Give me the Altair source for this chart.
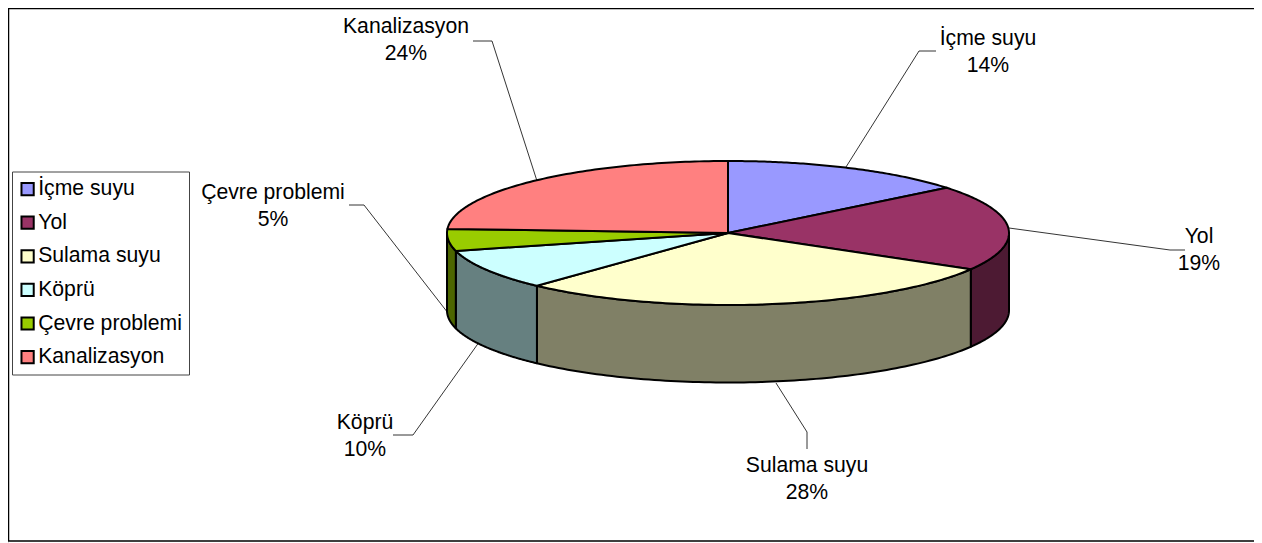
import numpy as np
import pandas as pd
import altair as alt

categories = ["İçme suyu", "Yol", "Sulama suyu", "Köprü", "Çevre problemi", "Kanalizasyon"]
shares = [14.2, 19.2, 28.5, 9.1, 4.9, 24.1]
percent_labels = ["14%", "19%", "28%", "10%", "5%", "24%"]
top_colors = ["#9999FF", "#993366", "#FFFFCC", "#CCFFFF", "#99CC00", "#FF8080"]
side_colors = ["#4D4D80", "#4D1A33", "#808066", "#668080", "#4D6600", "#804040"]

# layout (screen pixels of the reference)
CX, CY, RX, RY, DEPTH = 728.0, 233.0, 281.0, 72.0, 77.5
X0, Y0, X1, Y1 = 8.0, 8.0, 1254.0, 543.0
label_centres = [(988, 39), (1199, 237), (807, 466), (365, 423), (273, 193), (406, 27)]
LINE_GAP = 27
leaders = [
    [(846, 167), (919, 51), (936, 51)],
    [(1009, 228), (1170, 250), (1185, 250)],
    [(776, 383), (807, 432), (807, 449)],
    [(482, 338), (413, 435), (393, 435)],
    [(448, 313), (364, 205), (349, 205)],
    [(537, 181), (492, 41), (473, 41)],
]
frame = [(X1, 541), (X0 + 0.5, 541), (X0 + 0.5, Y0 + 0.5), (X1, Y0 + 0.5)]


def ell(deg, dy=0.0):
    a = np.radians(deg)
    return CX + RX * np.sin(a), CY - RY * np.cos(a) + dy


edges = np.concatenate([[0.0], np.cumsum(shares)]) * 3.6
top_rows, side_rows = [], []
for i, cat in enumerate(categories):
    a0, a1 = edges[i], edges[i + 1]
    arc = np.linspace(a0, a1, 90)
    pts = [(CX, CY)] + [ell(a) for a in arc]
    for k, (x, y) in enumerate(pts):
        top_rows.append(dict(cat=cat, k=k, x=x, y=y))
    lo, hi = max(a0, 90.0), min(a1, 270.0)
    if lo < hi:
        arc = np.linspace(lo, hi, 90)
        pts = [ell(a) for a in arc] + [ell(a, DEPTH) for a in arc[::-1]]
        for k, (x, y) in enumerate(pts):
            side_rows.append(dict(cat=cat, col=side_colors[i], k=k, x=x, y=y))

top_df = pd.DataFrame(top_rows)
side_df = pd.DataFrame(side_rows)
leader_df = pd.DataFrame(
    [dict(cat=categories[i], k=k, x=x, y=y) for i, l in enumerate(leaders) for k, (x, y) in enumerate(l)]
)
frame_df = pd.DataFrame([dict(k=k, x=x, y=y) for k, (x, y) in enumerate(frame)])
text_df = pd.DataFrame(
    [dict(t=categories[i], x=c[0], y=c[1]) for i, c in enumerate(label_centres)]
    + [dict(t=percent_labels[i], x=c[0], y=c[1] + LINE_GAP) for i, c in enumerate(label_centres)]
)

xs = alt.X("x:Q", scale=alt.Scale(domain=[X0, X1], nice=False, zero=False), axis=None)
ys = alt.Y("y:Q", scale=alt.Scale(domain=[Y1, Y0], nice=False, zero=False), axis=None)
FONT = "Liberation Sans"

frame_layer = alt.Chart(frame_df).mark_line(color="#000000", strokeWidth=1.5).encode(x=xs, y=ys, order="k:Q")
leader_layer = alt.Chart(leader_df).mark_line(color="#000000", strokeWidth=0.8).encode(
    x=xs, y=ys, order="k:Q", detail="cat:N"
)
side_layer = alt.Chart(side_df).mark_line(
    interpolate="linear-closed", stroke="#000000", strokeWidth=2, strokeJoin="round"
).encode(
    x=xs, y=ys, order="k:Q", detail="cat:N",
    fill=alt.Fill("col:N", scale=None, legend=None),
)
top_layer = alt.Chart(top_df).mark_line(
    interpolate="linear-closed", stroke="#000000", strokeWidth=2, strokeJoin="round"
).encode(
    x=xs, y=ys, order="k:Q",
    fill=alt.Fill(
        "cat:N",
        scale=alt.Scale(domain=categories, range=top_colors),
        legend=alt.Legend(
            title=None, orient="none", legendX=4, legendY=163.5,
            symbolType="square", symbolSize=150, symbolStrokeColor="#000000", symbolStrokeWidth=2,
            symbolOpacity=1, symbolOffset=-2, labelFont=FONT, labelFontSize=21.2, labelColor="#000000",
            labelOffset=0, labelLimit=200, rowPadding=11.6, padding=7,
            strokeColor="#444444", fillColor="#FFFFFF",
        ),
    ),
)
text_layer = alt.Chart(text_df).mark_text(
    font=FONT, fontSize=21.2, color="#000000", align="center", baseline="middle"
).encode(x=xs, y=ys, text="t:N")

chart = (
    alt.layer(frame_layer, leader_layer, side_layer, top_layer, text_layer)
    .resolve_scale(fill="independent")
    .properties(width=X1 - X0, height=Y1 - Y0, padding=0, autosize=alt.AutoSizeParams(type="none"))
    .configure_view(stroke=None)
    .configure(background="#FFFFFF")
)
chart.save("out.html", embed_options={"renderer": "svg", "actions": False})
